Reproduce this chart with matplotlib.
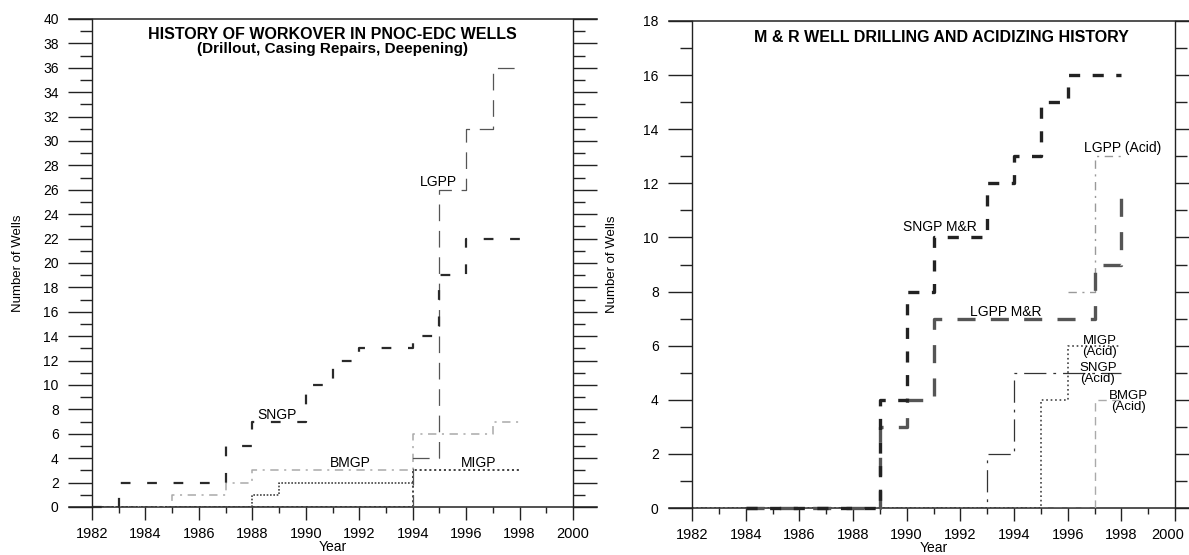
import matplotlib
matplotlib.use("Agg")
import matplotlib.pyplot as plt
from matplotlib.ticker import MultipleLocator
from matplotlib.transforms import ScaledTranslation

plt.rcParams['font.family'] = ['Liberation Sans', 'DejaVu Sans']
plt.rcParams['lines.scale_dashes'] = False

# ---- left chart: workover history, cumulative wells per field ----
years = [1982, 1983, 1984, 1985, 1986, 1987, 1988, 1989, 1990,
         1991, 1992, 1993, 1994, 1995, 1996, 1997, 1998]
sngp_wo = [0, 2, 2, 2, 2, 5, 7, 7, 10, 12, 13, 13, 14, 19, 22, 22, 22]
lgpp_wo = [0, 0, 0, 0, 0, 0, 0, 0, 0, 0, 0, 0, 4, 26, 31, 36, 36]
bmgp_wo = [0, 0, 0, 1, 1, 2, 3, 3, 3, 3, 3, 3, 6, 6, 6, 7, 7]
migp_wo = [0, 0, 0, 0, 0, 0, 0, 0, 0, 0, 0, 0, 3, 3, 3, 3, 3]
other_years = [1982, 1983, 1984, 1985, 1986, 1987, 1988, 1989, 1990,
               1991, 1992, 1993, 1994]
other_wo = [0, 0, 0, 0, 0, 0, 1, 2, 2, 2, 2, 2, 2]

# ---- right chart: M&R drilling and acidizing ----
mr_years = [1984, 1985, 1986, 1987, 1988, 1989, 1990, 1991, 1992,
            1993, 1994, 1995, 1996, 1997, 1998]
sngp_mr = [0, 0, 0, 0, 0, 4, 8, 10, 10, 12, 13, 15, 16, 16, 16]
lgpp_mr = [0, 0, 0, 0, 0, 3, 4, 7, 7, 7, 7, 7, 7, 9, 11.5]
sngp_acid = [0, 0, 0, 0, 0, 0, 0, 0, 0, 0, 0, 2, 5, 5, 5, 5, 5]
migp_acid = [0, 0, 0, 0, 0, 0, 0, 0, 0, 0, 0, 0, 0, 4, 6, 6, 6]
bmgp_acid = [0, 0, 0, 0, 0, 0, 0, 0, 0, 0, 0, 0, 0, 0, 0, 4, 4]
lgpp_acid_years = [1996, 1997, 1998]
lgpp_acid = [8, 13, 13]

year_ticks = [1982, 1984, 1986, 1988, 1990, 1992, 1994, 1996, 1998, 2000]

W, H = 1189, 555
fig = plt.figure(figsize=(W / 100, H / 100), dpi=100)


def setup(ax, ymax):
    ax.set_xlim(1982, 2000)
    ax.set_ylim(0, ymax)
    ax.set_xticks(year_ticks, [str(y) for y in year_ticks])
    ax.xaxis.set_minor_locator(MultipleLocator(1))
    ax.yaxis.set_major_locator(MultipleLocator(2))
    ax.yaxis.set_minor_locator(MultipleLocator(1))
    ax.tick_params(axis='y', which='both', direction='out', left=True, right=True,
                   width=1, color='#222')
    ax.tick_params(axis='y', which='major', length=17, pad=7, labelsize=10)
    ax.tick_params(axis='y', which='minor', length=8.5)
    ax.tick_params(axis='x', which='both', direction='out', top=False, width=1, color='#222')
    ax.tick_params(axis='x', which='major', length=9.5, pad=5, labelsize=10.5)
    ax.tick_params(axis='x', which='minor', length=4.5)
    for s in ax.spines.values():
        s.set_linewidth(1.0)
        s.set_color('#222')
    ax.spines['top'].set_visible(False)
    ax.spines['bottom'].set_visible(False)
    # top and zero lines run out past the frame like in the scan
    for yy in (0, 1):
        ax.plot([-0.048, 1.05], [yy, yy], transform=ax.transAxes, clip_on=False,
                color='#222', lw=1.1)
    ax.set_xlabel('Year', fontsize=10)
    ax.xaxis.set_label_coords(0.5, -0.067)
    ax.set_ylabel('Number of Wells', fontsize=9.5)


# left panel
ax1 = fig.add_axes([92 / W, 48 / H, 481 / W, 488 / H])
setup(ax1, 40)
ax1.yaxis.set_label_coords(-0.141, 0.5)

ax1.step(years, bmgp_wo, where='post', color='#aaaaaa', lw=1.1, ls=(0, (6, 4, 1.5, 4)))
ax1.step(other_years, other_wo, where='post', color='#444444', lw=1.2, ls=(0, (1.2, 1.2)))
ax1.step(years, migp_wo, where='post', color='#333333', lw=1.3, ls=(0, (1.5, 2)))
ax1.step(years, lgpp_wo, where='post', color='#555555', lw=0.9, ls=(0, (12, 7)))
ax1.step(years, sngp_wo, where='post', color='#2a2a2a', lw=1.6, ls=(0, (7, 12)),
         clip_on=False)

ax1.text(1991, 38.75, 'HISTORY OF WORKOVER IN PNOC-EDC WELLS', ha='center', va='center',
         fontsize=11.5, fontweight='bold')
ax1.text(1991, 37.5, '(Drillout, Casing Repairs, Deepening)', ha='center', va='center',
         fontsize=11, fontweight='bold')
ax1.text(1994.95, 26.6, 'LGPP', ha='center', va='center', fontsize=10)
ax1.text(1988.94, 7.55, 'SNGP', ha='center', va='center', fontsize=10)
ax1.text(1991.66, 3.6, 'BMGP', ha='center', va='center', fontsize=10)
ax1.text(1996.45, 3.6, 'MIGP', ha='center', va='center', fontsize=10)

# right panel
ax2 = fig.add_axes([692 / W, 47 / H, 483 / W, 487 / H])
setup(ax2, 18)
ax2.yaxis.set_label_coords(-0.153, 0.5)
# last year label sits on the figure edge, nudge it in a little
last = ax2.get_xticklabels()[-1]
last.set_transform(last.get_transform() + ScaledTranslation(-5 / 72, 0, fig.dpi_scale_trans))

ax2.step(years, bmgp_acid, where='post', color='#aaaaaa', lw=1.0, ls=(0, (6, 4)))
ax2.step(lgpp_acid_years, lgpp_acid, where='post', color='#999999', lw=1.0,
         ls=(0, (6, 4, 1.5, 4)))
ax2.step(years, migp_acid, where='post', color='#333333', lw=1.1, ls=(0, (1.2, 2)))
ax2.step(years, sngp_acid, where='post', color='#333333', lw=0.9, ls=(0, (16, 5, 2, 5)))
ax2.step(mr_years, lgpp_mr, where='post', color='#555555', lw=2.4, ls=(0, (13, 11)),
         clip_on=False)
ax2.step(mr_years, sngp_mr, where='post', color='#222222', lw=2.4, ls=(0, (8, 9)),
         clip_on=False)

ax2.text(1991.3, 17.38, 'M & R WELL DRILLING AND ACIDIZING HISTORY', ha='center',
         va='center', fontsize=11.5, fontweight='bold')
ax2.text(1991.23, 10.4, 'SNGP M&R', ha='center', va='center', fontsize=10)
ax2.text(1993.68, 7.26, 'LGPP M&R', ha='center', va='center', fontsize=10)
ax2.text(1998.04, 13.3, 'LGPP (Acid)', ha='center', va='center', fontsize=10)
ax2.text(1997.2, 5.98, 'MIGP\n(Acid)', ha='center', va='center', fontsize=9.5,
         linespacing=0.9)
ax2.text(1997.13, 4.98, 'SNGP\n(Acid)', ha='center', va='center', fontsize=9.5,
         linespacing=0.9)
ax2.text(1998.25, 3.95, 'BMGP\n(Acid)', ha='center', va='center', fontsize=9.5,
         linespacing=0.9)

fig.savefig('out.png', dpi=100)
